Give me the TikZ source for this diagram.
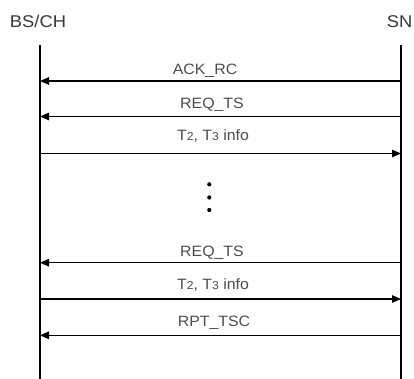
\documentclass[tikz,border=0pt]{standalone}
\usepackage{fontspec}
\setmainfont{Liberation Sans}
\usetikzlibrary{arrows.meta}
\begin{document}
\begin{tikzpicture}[x=1pt,y=1pt,
  lifeline/.style={line width=1.1pt,black},
  msg/.style={line width=1.1pt,black,-{Triangle[length=9pt,width=7.5pt]}},
  head/.style={font=\fontsize{17}{19}\selectfont,text=black!78,anchor=base,inner sep=0pt,xscale=1.08},
  lbl/.style={font=\fontsize{15}{17}\selectfont,text=black!70,anchor=base,inner sep=0pt,xscale=1.06},
  dot/.style={circle,fill=black,inner sep=0pt,minimum size=4.2pt}]
\useasboundingbox (0,0) rectangle (414,-379);
% entity names
\node[head] (bsname) at (38,-27.5) {BS/CH};
\node[head] (snname) at (399.5,-27.5) {SN};
% lifelines
\coordinate (bstop) at (40,-45);
\coordinate (bsbot) at (40,-380);
\coordinate (sntop) at (401,-45);
\coordinate (snbot) at (401,-380);
\draw[lifeline] (bstop) -- (bsbot);
\draw[lifeline] (sntop) -- (snbot);
% message anchors on both lifelines
\foreach \i/\y in {1/81,2/116.5,3/153.5,4/262.7,5/299,6/335.3}{
  \coordinate (bs\i) at (40,-\y);
  \coordinate (sn\i) at (401,-\y);
}
\newcommand{\ttinfo}{T{\fontsize{11.5}{12}\selectfont 2}, T{\fontsize{11.5}{12}\selectfont 3} info}
% messages
\draw[msg] (sn1) -- (bs1);
\node[lbl] (m1) at (205,-75) {ACK\_RC};
\draw[msg] (sn2) -- (bs2);
\node[lbl] (m2) at (212,-109) {REQ\_TS};
\draw[msg] (bs3) -- (sn3);
\node[lbl] (m3) at (213,-141) {\ttinfo};
% continuation dots
\node[dot] (d1) at (209.3,-184.3) {};
\node[dot] (d2) at (209.3,-197.5) {};
\node[dot] (d3) at (209.3,-210) {};
\draw[msg] (sn4) -- (bs4);
\node[lbl] (m4) at (212,-256) {REQ\_TS};
\draw[msg] (bs5) -- (sn5);
\node[lbl] (m5) at (213,-289.5) {\ttinfo};
\draw[msg] (sn6) -- (bs6);
\node[lbl] (m6) at (214,-326) {RPT\_TSC};
\end{tikzpicture}
\end{document}
